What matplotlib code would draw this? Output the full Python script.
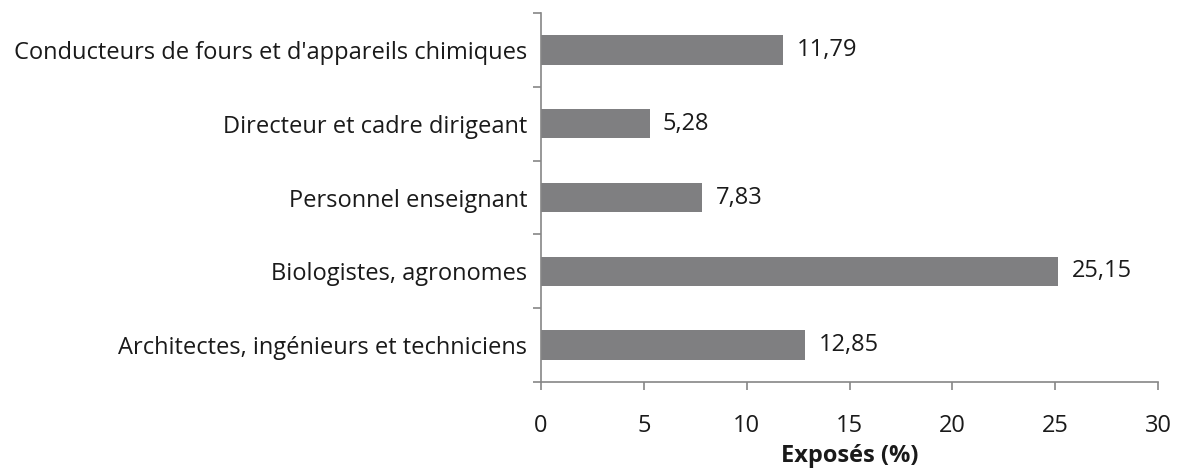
import matplotlib
matplotlib.use("Agg")
import matplotlib.pyplot as plt
import numpy as np

categories = [
    "Architectes, ingénieurs et techniciens",
    "Biologistes, agronomes",
    "Personnel enseignant",
    "Directeur et cadre dirigeant",
    "Conducteurs de fours et d'appareils chimiques",
]
values = [12.85, 25.15, 7.83, 5.28, 11.79]
value_labels = ["12,85", "25,15", "7,83", "5,28", "11,79"]
x_ticks = [0, 5, 10, 15, 20, 25, 30]
x_label = "Exposés (%)"

plt.rcParams['font.family'] = ['Open Sans', 'DejaVu Sans']
FS = 17
axis_color = "#868686"
bar_color = "#7f7f81"

fig = plt.figure(figsize=(11.82, 4.73), dpi=100)
ax = fig.add_axes([541/1182, 1-382/473, (1158-541)/1182, (382-13)/473])

y = np.arange(len(categories))
ax.barh(y, values, height=0.4, color=bar_color, zorder=2)
for yi, v, lab in zip(y, values, value_labels):
    ax.text(v + 0.65, yi, lab, va='center', ha='left', fontsize=FS, color='#1a1a1a')

ax.set_xlim(0, 30)
ax.set_ylim(-0.5, len(categories) - 0.5)
ax.set_xticks(x_ticks)
ax.set_xticklabels([str(t) for t in x_ticks], fontsize=FS, color='#1a1a1a')
ax.set_yticks(y)
ax.set_yticklabels(categories, fontsize=FS, color='#1a1a1a')
ax.set_yticks(np.arange(-0.5, len(categories), 1.0), minor=True)
ax.tick_params(axis='y', which='major', length=0, pad=10)
ax.tick_params(axis='y', which='minor', length=6, width=1.2, color=axis_color, direction='out')
ax.tick_params(axis='x', which='major', length=6, width=1.2, color=axis_color, direction='out', pad=17)

for s in ['top', 'right']:
    ax.spines[s].set_visible(False)
for s in ['left', 'bottom']:
    ax.spines[s].set_color(axis_color)
    ax.spines[s].set_linewidth(1.2)

ax.set_xlabel(x_label, fontsize=FS, fontweight='bold', color='#1a1a1a', labelpad=4)

fig.savefig("out.png", dpi=100)
